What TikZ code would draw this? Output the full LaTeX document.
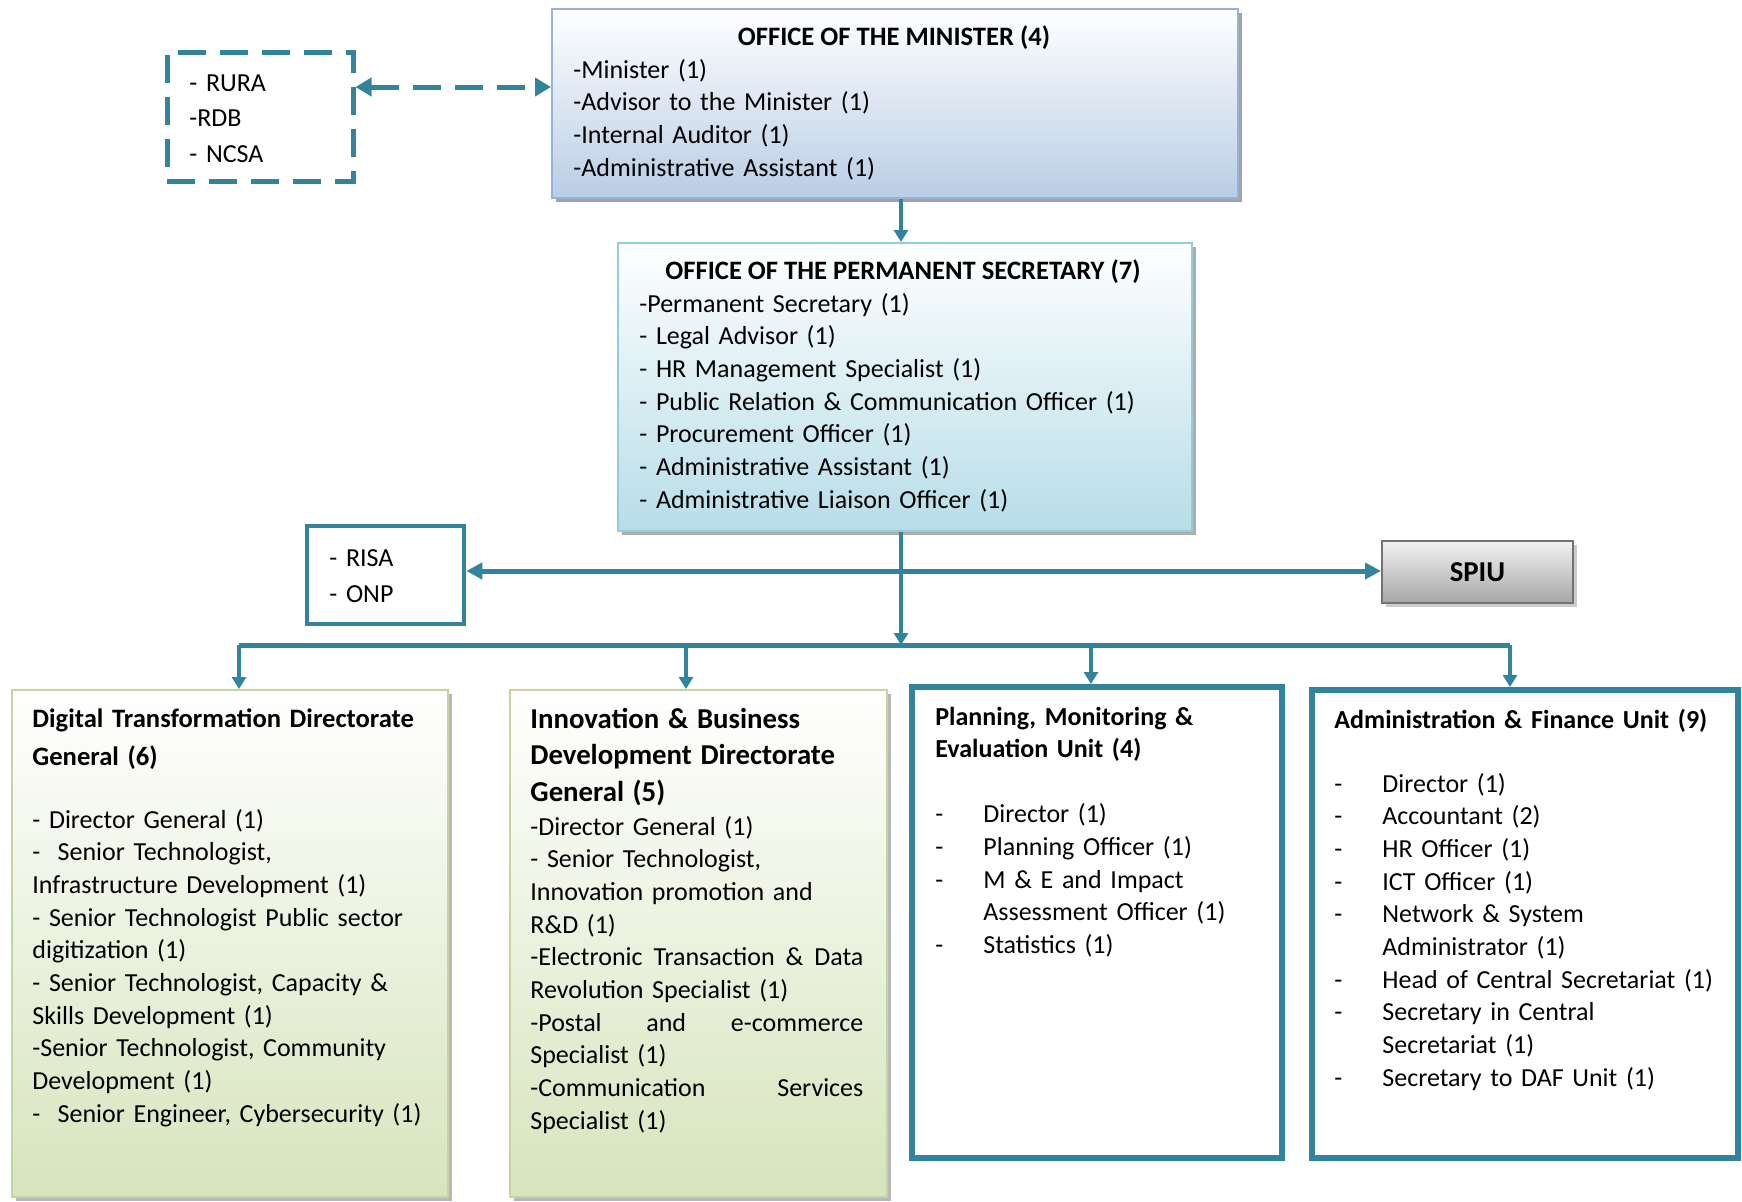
\documentclass[tikz,border=0pt]{standalone}
\usepackage{fontspec}
\setmainfont{Carlito}
\usetikzlibrary{arrows.meta,shadows,fit}

\definecolor{orgteal}{HTML}{31849B}
\definecolor{minfill}{HTML}{B9CDE5}
\definecolor{minline}{HTML}{95B3D7}
\definecolor{psfill}{HTML}{B7DDE8}
\definecolor{psline}{HTML}{92CDDC}
\definecolor{grfill}{HTML}{D7E4BD}
\definecolor{grline}{HTML}{C3D69B}
\definecolor{spiufill}{HTML}{A6A6A6}
\definecolor{spiuline}{HTML}{737373}

\newcommand{\itemdash}{\makebox[24pt][l]{-}}

\tikzset{
  box/.style={inner sep=0pt, draw},
  minbox/.style={box, draw=minline, line width=1pt, top color=white, bottom color=minfill,
    drop shadow={shadow xshift=2pt, shadow yshift=-2pt, fill=black!45, opacity=.8}},
  psbox/.style={box, draw=psline, line width=1pt, top color=white, bottom color=psfill,
    drop shadow={shadow xshift=2pt, shadow yshift=-2pt, fill=black!40, opacity=.8}},
  greenbox/.style={box, draw=grline, line width=1pt, top color=white, bottom color=grfill,
    drop shadow={shadow xshift=2pt, shadow yshift=-2pt, fill=black!35, opacity=.8}},
  spiubox/.style={box, draw=spiuline, line width=1pt, top color=white!95!black, bottom color=spiufill,
    drop shadow={shadow xshift=2pt, shadow yshift=-2pt, fill=black!25, opacity=.8}},
  tealbox/.style={box, draw=orgteal, line width=2.5pt, fill=white},
  dashbox/.style={box, draw=orgteal, line width=2.5pt, dash pattern=on 14pt off 7pt},
  txt/.style={inner sep=0pt, anchor=base west, align=left, text width=#1,
    font=\fontsize{13}{16.35}\selectfont},
  head/.style={inner sep=0pt, anchor=base, font=\fontsize{13.3}{15}\selectfont\bfseries},
  conn/.style={draw=orgteal, line width=1.6pt},
  tip/.style={-{Triangle[length=6pt, width=7pt]}},
}

\begin{document}
\begin{tikzpicture}[x=0.5pt,y=-0.5pt]
\useasboundingbox (0,0) rectangle (1742,1201);

% boxes
\node[minbox, fit={(552,9) (1238,198)}] (min) {};
\node[dashbox, fit={(167,52) (353,181)}] (ext) {};
\node[psbox, fit={(618,243) (1192,531)}] (ps) {};
\node[tealbox, line width=2.3pt, fit={(307,526) (464,624)}] (risa) {};
\node[spiubox, fit={(1382,541) (1573,603)}] (spiu) {};
\node[greenbox, fit={(12,690) (448,1197)}] (dt) {};
\node[greenbox, fit={(510,690) (887,1197)}] (ib) {};
\node[tealbox, line width=3pt, fit={(912,687) (1282,1158)}] (pme) {};
\node[tealbox, line width=3pt, fit={(1312,690) (1738,1158)}] (af) {};

% texts
\node[head] (min-t) at (894,45) {OFFICE OF THE MINISTER (4)};
\node[txt=300pt] (min-l) at (573,78) {-Minister (1)\\ -Advisor to the Minister (1)\\ -Internal Auditor (1)\\ -Administrative Assistant (1)};
\node[txt=120pt, font=\fontsize{13}{17.75}\selectfont] (ext-l) at (189,91) {- RURA\\ -RDB\\ - NCSA};
\node[head] (ps-t) at (903,279) {OFFICE OF THE PERMANENT SECRETARY (7)};
\node[txt=300pt] (ps-l) at (639,312) {-Permanent Secretary (1)\\ - Legal Advisor (1)\\ - HR Management Specialist (1)\\
  - Public Relation \& Communication Officer (1)\\ - Procurement Officer (1)\\ - Administrative Assistant (1)\\
  - Administrative Liaison Officer (1)};
\node[txt=70pt, font=\fontsize{13}{18}\selectfont] (risa-l) at (329,566) {- RISA\\ - ONP};
\node[font=\fontsize{14.4}{16}\selectfont\bfseries, inner sep=0pt] (spiu-t) at (spiu) {SPIU};

\node[txt=215pt] (dt-l) at (32,727) {{\fontsize{13.3}{15}\selectfont\bfseries Digital Transformation Directorate\\[2.65pt] General (6)}\\[15.15pt]
  - Director General (1)\\ -\ \ Senior Technologist,\\ Infrastructure Development (1)\\
  - Senior Technologist Public sector\\ digitization (1)\\ - Senior Technologist, Capacity \&\\
  Skills Development (1)\\ -Senior Technologist, Community\\ Development (1)\\ -\ \ Senior Engineer, Cybersecurity (1)};
\node[txt=166.5pt] (ib-l) at (530,728) {{\fontsize{14.4}{16}\selectfont\bfseries Innovation \& Business\\[2.2pt] Development Directorate\\[2.2pt] General (5)}\\[0.4pt]
  -Director General (1)\\ - Senior Technologist,\\ Innovation promotion and\\ R\&D (1)\\
  -Electronic\hfill Transaction\hfill \&\hfill Data\\ Revolution Specialist (1)\\
  -Postal\hfill and\hfill e-commerce\\ Specialist (1)\\ -Communication\hfill Services\\ Specialist (1)};
\node[txt=175pt] (pme-l) at (935,725) {{\bfseries Planning, Monitoring \&\\ Evaluation Unit (4)}\\[16.15pt]
  \itemdash Director (1)\\ \itemdash Planning Officer (1)\\ \itemdash M \& E and Impact\\
  \hspace*{24pt}Assessment Officer (1)\\ \itemdash Statistics (1)};
\node[txt=205pt] (af-l) at (1334,728) {{\bfseries Administration \& Finance Unit (9)}\\[15.65pt]
  \itemdash Director (1)\\ \itemdash Accountant (2)\\ \itemdash HR Officer (1)\\ \itemdash ICT Officer (1)\\
  \itemdash Network \& System\\ \hspace*{24pt}Administrator (1)\\ \itemdash Head of Central Secretariat (1)\\
  \itemdash Secretary in Central\\ \hspace*{24pt}Secretariat (1)\\ \itemdash Secretary to DAF Unit (1)};

% connectors
\coordinate (axis) at (901,571);
\coordinate (dl) at (0,87);
\coordinate (bus) at (901,645);
\coordinate (j1) at (239,645);
\coordinate (j2) at (686,645);
\coordinate (j3) at (1091,645);
\coordinate (j4) at (1510,645);
\draw[conn, line width=2.5pt, dash pattern=on 14pt off 7pt,
  {Triangle[length=8pt, width=9pt]}-{Triangle[length=8pt, width=9pt]}] (ext.east |- dl) -- (min.west |- dl);
\draw[conn, line width=1.8pt, tip] (min.south -| axis) -- (ps.north -| axis);
\draw[conn, line width=2.5pt, {Triangle[length=8pt, width=8pt]}-{Triangle[length=8pt, width=8pt]}] (risa.east |- axis) -- (spiu.west |- axis);
\draw[conn, tip] (ps.south -| axis) -- (bus);
\draw[conn, line width=2.5pt] (j1) -- (j4);
\foreach \j/\b in {j1/dt, j2/ib, j3/pme, j4/af}
  \draw[conn, tip] (\j) -- (\j |- \b.north);
\end{tikzpicture}
\end{document}
